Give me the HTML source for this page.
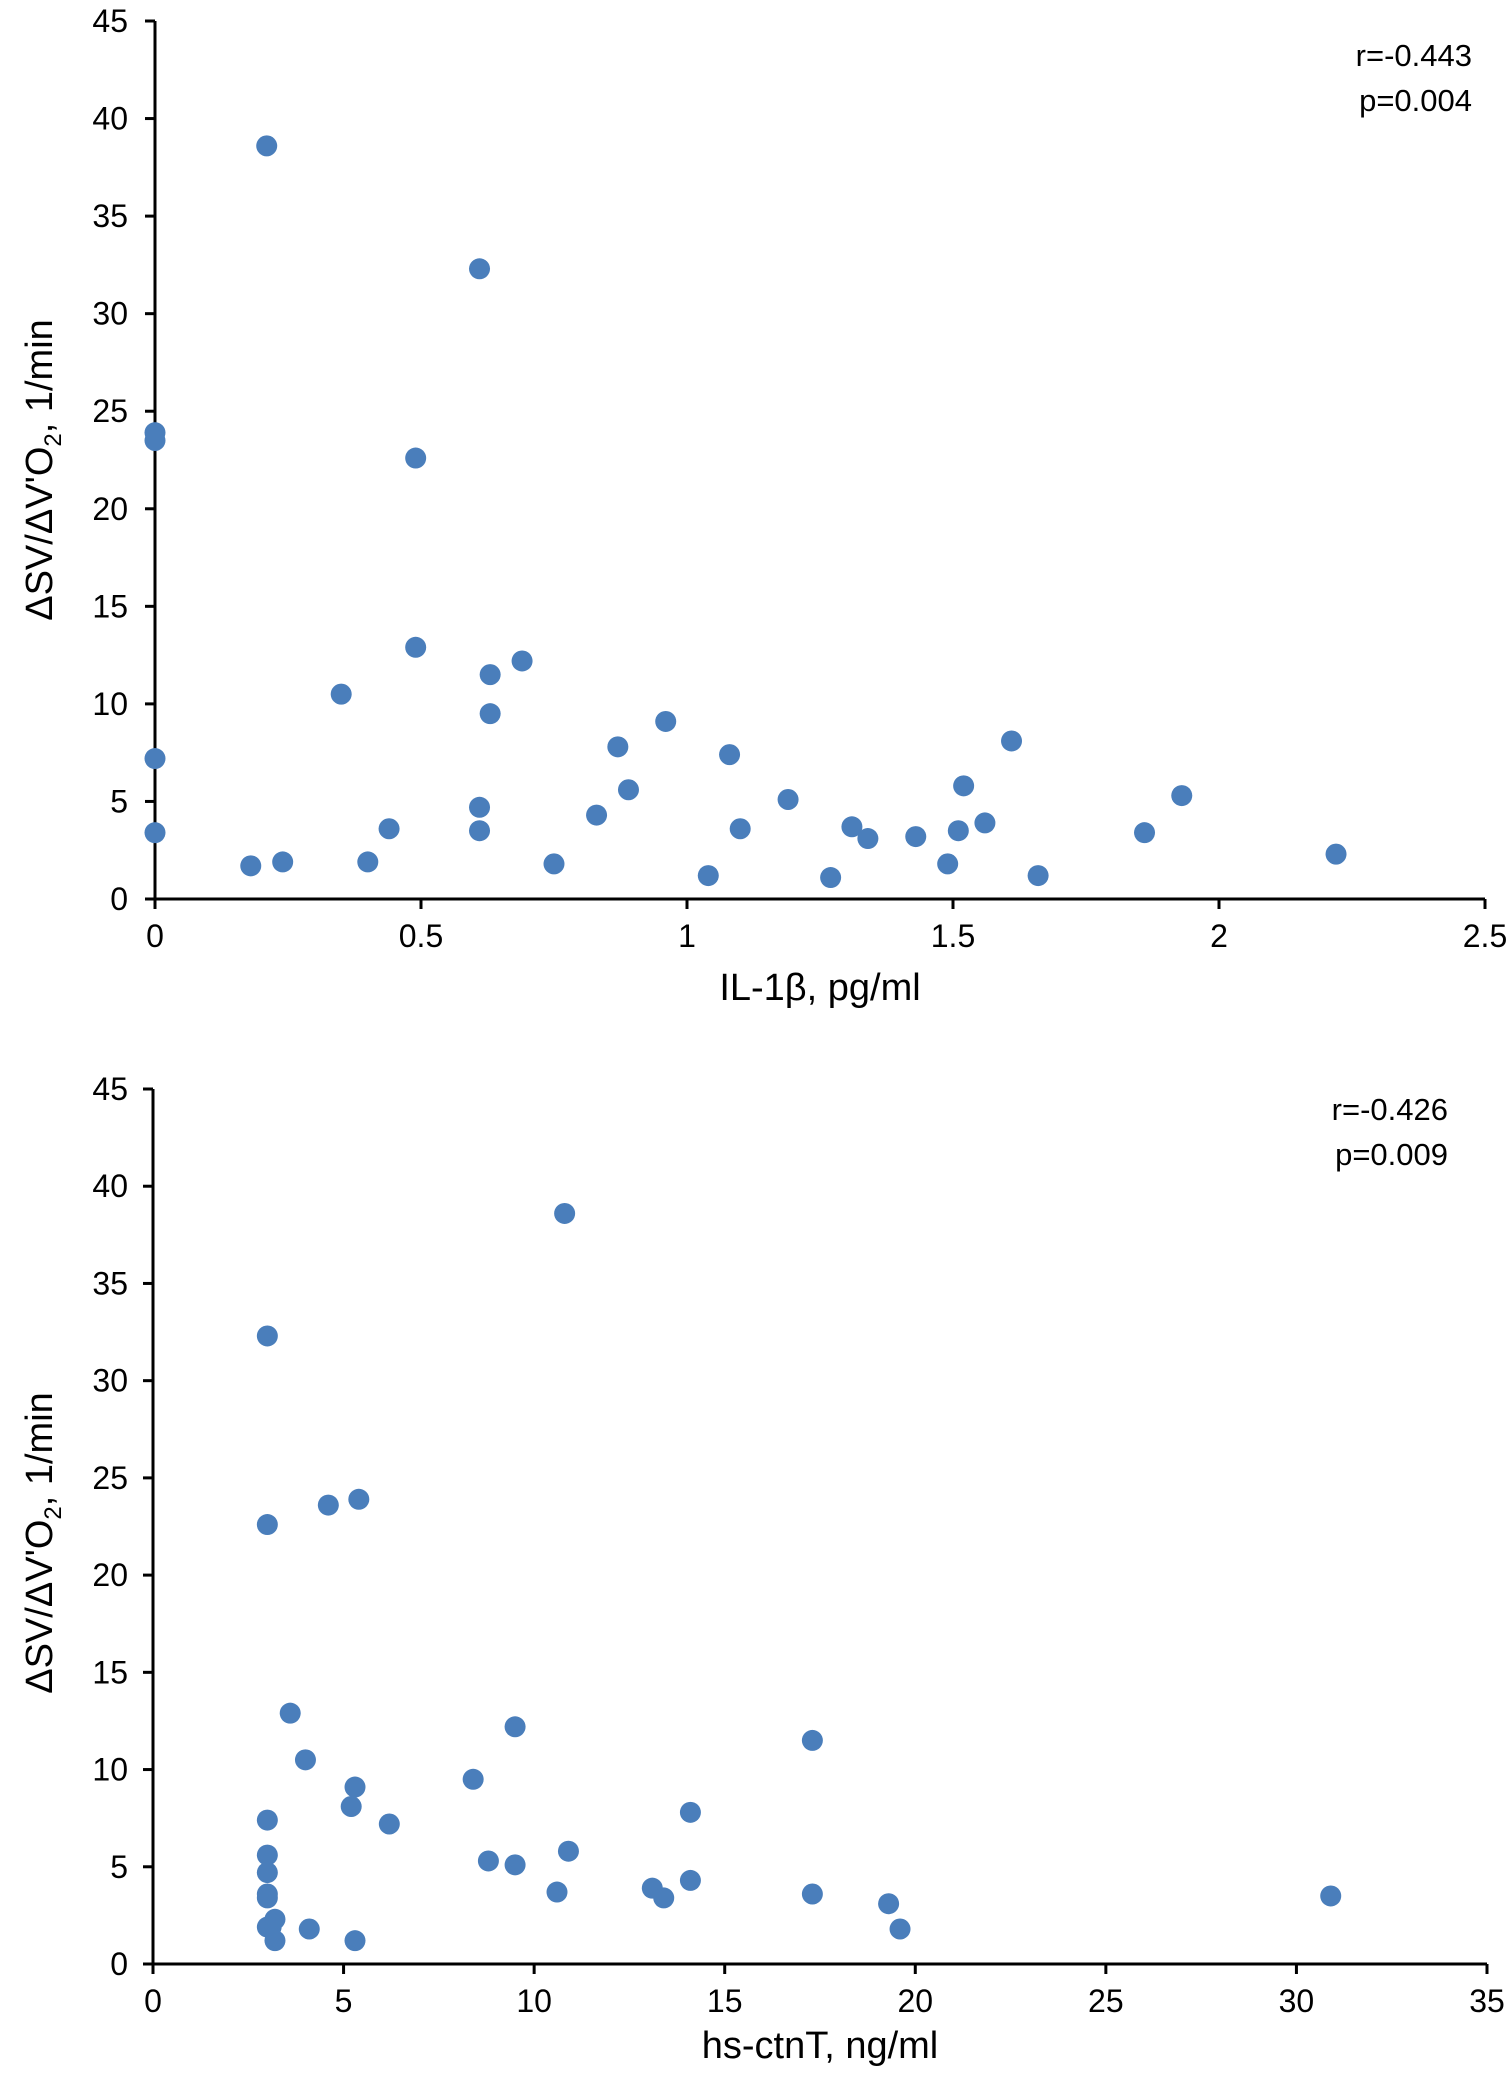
<!DOCTYPE html>
<html><head><meta charset="utf-8">
<style>
html,body{margin:0;padding:0;background:#fff;}
svg{display:block;font-family:"Liberation Sans",Arial,sans-serif;}
</style></head>
<body>
<svg id="fig" width="1510" height="2089" viewBox="0 0 1510 2089"></svg>
<script>
// Top chart data
const il1bX = [0.21,0.61,0,0,0.49,0.49,0.69,0.63,0.35,0.63,0.96,0,0.87,1.08,1.61,0.61,0.89,1.52,1.93,1.19,0.83,0,0.44,0.61,1.10,1.31,1.34,1.43,1.51,1.56,1.86,2.22,0.18,0.24,0.40,0.75,1.04,1.27,1.49,1.66];
const il1bY = [38.6,32.3,23.9,23.5,22.6,12.9,12.2,11.5,10.5,9.5,9.1,7.2,7.8,7.4,8.1,4.7,5.6,5.8,5.3,5.1,4.3,3.4,3.6,3.5,3.6,3.7,3.1,3.2,3.5,3.9,3.4,2.3,1.7,1.9,1.9,1.8,1.2,1.1,1.8,1.2];
const il1bXTicks = ["0","0.5","1","1.5","2","2.5"];
const yTicks = ["0","5","10","15","20","25","30","35","40","45"];
// Bottom chart data
const ctnX = [10.8,3,3,4.6,5.4,3.6,9.5,17.3,4,8.4,5.3,5.2,14.1,3,6.2,3,10.9,8.8,9.5,3,14.1,13.1,10.6,17.3,13.4,3,3,30.9,19.3,3.2,3.1,3,4.1,19.6,3.2,5.3];
const ctnY = [38.6,32.3,22.6,23.6,23.9,12.9,12.2,11.5,10.5,9.5,9.1,8.1,7.8,7.4,7.2,5.6,5.8,5.3,5.1,4.7,4.3,3.9,3.7,3.6,3.4,3.6,3.4,3.5,3.1,2.3,1.9,1.9,1.8,1.8,1.2,1.2];
const ctnXTicks = ["0","5","10","15","20","25","30","35"];

const NS="http://www.w3.org/2000/svg";
const svg=document.getElementById('fig');
function mk(tag,attrs,parent){const e=document.createElementNS(NS,tag);for(const k in attrs)e.setAttribute(k,attrs[k]);(parent||svg).appendChild(e);return e;}

function chart(o){
  const g=mk('g',{});
  
  
  const sx=v=>o.x0+(v-o.xmin)/(o.xmax-o.xmin)*(o.x1-o.x0);
  const sy=v=>o.y0-(v/45)*(o.y0-o.y1);
  const ya=mk('line',{x1:o.x0,y1:o.y0,x2:o.x0,y2:o.y1,stroke:'#000','stroke-width':3},g);
  
  
  const xa=mk('line',{x1:o.x0-10,y1:o.y0,x2:o.x1,y2:o.y0,stroke:'#000','stroke-width':3},g);
  
  
  yTicks.forEach(t=>{
    const y=sy(+t);
    mk('line',{x1:o.x0-10,y1:y,x2:o.x0,y2:y,stroke:'#000','stroke-width':3},g);
    const tx=mk('text',{x:128,y:y+11,'text-anchor':'end','font-size':32},g);
    tx.textContent=t;
    
    
  });
  o.xticks.forEach((t,i)=>{
    const x=sx(+t);
    mk('line',{x1:x,y1:o.y0,x2:x,y2:o.y0+10,stroke:'#000','stroke-width':3},g);
    const tx=mk('text',{x:x,y:o.y0+48,'text-anchor':'middle','font-size':32},g);
    tx.textContent=t;
    
    
  });
  o.xs.forEach((v,i)=>{
    const c=mk('circle',{cx:sx(v),cy:sy(o.ys[i]),r:10.5,fill:'#4a7ebb'},g);
    
    
  });
  const xt=mk('text',{x:(o.x0+o.x1)/2,y:o.xtY,'text-anchor':'middle','font-size':38},g);
  xt.innerHTML=o.xtitle;
  
  
  const yt=mk('text',{x:0,y:0,'text-anchor':'middle','font-size':38,transform:`translate(52,${o.ytY}) rotate(-90)`},g);
  yt.innerHTML='ΔSV/ΔV\'O<tspan font-size="24" dy="9">2</tspan><tspan dy="-9">, 1/min</tspan>';
  
  
  const r=mk('text',{x:o.annX,y:o.annY,'text-anchor':'end','font-size':31},g);
  r.textContent=o.r;
  
  
  const p=mk('text',{x:o.annX,y:o.annY+45,'text-anchor':'end','font-size':31},g);
  p.textContent=o.p;
  
  
}
chart({name:'il1b-scatter',x0:155,x1:1485,y0:899,y1:21,xmin:0,xmax:2.5,xticks:il1bXTicks,xs:il1bX,ys:il1bY,xtitle:'IL-1β, pg/ml',xtY:1000,ytY:470,annX:1472,annY:66,r:'r=-0.443',p:'p=0.004'});
chart({name:'ctnt-scatter',x0:153,x1:1487,y0:1964,y1:1089,xmin:0,xmax:35,xticks:ctnXTicks,xs:ctnX,ys:ctnY,xtitle:'hs-ctnT, ng/ml',xtY:2058,ytY:1543,annX:1448,annY:1120,r:'r=-0.426',p:'p=0.009'});
</script>
</body></html>
